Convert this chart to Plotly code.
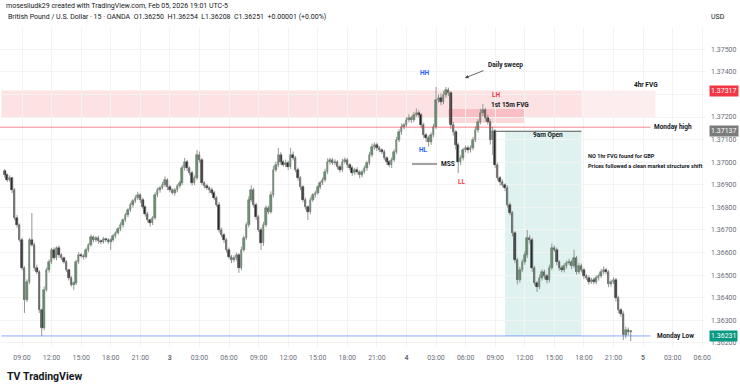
import plotly.graph_objects as go
import pandas as pd

# ---------------- data ----------------
start_time = "2026-02-02 07:15"
bar_minutes = 15
first_open = 1.36960

closes = [
    1.36943, 1.36921, 1.36930, 1.36877, 1.36753, 1.36722, 1.36656, 1.36532, 1.36390, 1.36470,
    1.36656, 1.36634, 1.36532, 1.36514, 1.36346, 1.36266, 1.36435, 1.36523, 1.36558, 1.36612,
    1.36576, 1.36620, 1.36589, 1.36576, 1.36558, 1.36523, 1.36488, 1.36457, 1.36466, 1.36558,
    1.36589, 1.36585, 1.36581, 1.36612, 1.36634, 1.36669, 1.36656, 1.36665, 1.36651, 1.36647,
    1.36660, 1.36656, 1.36647, 1.36656, 1.36673, 1.36687, 1.36704, 1.36722, 1.36744, 1.36766,
    1.36789, 1.36811, 1.36828, 1.36842, 1.36855, 1.36833, 1.36802, 1.36771, 1.36744, 1.36731,
    1.36753, 1.36855, 1.36877, 1.36886, 1.36899, 1.36921, 1.36890, 1.36877, 1.36864, 1.36877,
    1.36895, 1.36908, 1.36974, 1.37001, 1.36974, 1.36952, 1.36908, 1.36930, 1.37032, 1.37010,
    1.36908, 1.36895, 1.36886, 1.36877, 1.36864, 1.36842, 1.36811, 1.36700, 1.36678, 1.36656,
    1.36612, 1.36581, 1.36567, 1.36576, 1.36589, 1.36532, 1.36612, 1.36665, 1.36722, 1.36833,
    1.36877, 1.36811, 1.36758, 1.36700, 1.36642, 1.36722, 1.36797, 1.36780, 1.36855, 1.36966,
    1.36988, 1.37032, 1.37001, 1.36988, 1.36997, 1.36979, 1.37032, 1.37019, 1.36966, 1.36930,
    1.36890, 1.36833, 1.36802, 1.36780, 1.36833, 1.36855, 1.36864, 1.36890, 1.36908, 1.36921,
    1.36957, 1.37001, 1.37010, 1.36997, 1.37001, 1.36979, 1.36966, 1.37001, 1.37010, 1.36988,
    1.36974, 1.36952, 1.36966, 1.36957, 1.36943, 1.36957, 1.36974, 1.36997, 1.37032, 1.37067,
    1.37076, 1.37063, 1.37054, 1.37045, 1.37019, 1.37001, 1.36988, 1.37010, 1.37045, 1.37098,
    1.37134, 1.37156, 1.37165, 1.37187, 1.37196, 1.37187, 1.37209, 1.37218, 1.37209, 1.37165,
    1.37120, 1.37107, 1.37089, 1.37120, 1.37156, 1.37275, 1.37284, 1.37266, 1.37297, 1.37320,
    1.37306, 1.37165, 1.37134, 1.37076, 1.37001, 1.37019, 1.37054, 1.37063, 1.37054, 1.37063,
    1.37098, 1.37143, 1.37178, 1.37218, 1.37231, 1.37196, 1.37178, 1.37098, 1.37137, 1.36988,
    1.36930, 1.36912, 1.36899, 1.36886, 1.36811, 1.36775, 1.36687, 1.36567, 1.36479, 1.36523,
    1.36558, 1.36589, 1.36665, 1.36656, 1.36532, 1.36466, 1.36448, 1.36488, 1.36514, 1.36496,
    1.36479, 1.36532, 1.36620, 1.36612, 1.36558, 1.36532, 1.36523, 1.36541, 1.36554, 1.36558,
    1.36541, 1.36576, 1.36514, 1.36541, 1.36523, 1.36496, 1.36488, 1.36470, 1.36479, 1.36470,
    1.36488, 1.36496, 1.36514, 1.36523, 1.36514, 1.36461, 1.36470, 1.36479, 1.36399, 1.36346,
    1.36328, 1.36235, 1.36258, 1.36250, 1.36251,
]

# wick extents beyond the candle body, in points (0.00001)
upper_wick_pts = [
    10, 8, 12, 6, 9, 14, 7, 10, 8, 12,
    9, 119, 10, 14, 8, 6, 15, 10, 12, 9,
    11, 7, 10, 8, 6, 9, 5, 8, 7, 10,
    12, 9, 8, 10, 7, 11, 6, 8, 10, 7,
    9, 6, 8, 7, 10, 8, 9, 12, 7, 10,
    8, 11, 9, 12, 14, 8, 10, 7, 9, 6,
    8, 12, 10, 9, 14, 16, 8, 10, 7, 9,
    8, 10, 14, 18, 9, 7, 10, 12, 22, 15,
    9, 8, 10, 7, 11, 9, 8, 12, 10, 9,
    8, 10, 9, 12, 11, 8, 14, 10, 12, 16,
    20, 10, 9, 8, 11, 14, 12, 10, 16, 18,
    15, 31, 12, 10, 14, 9, 31, 15, 8, 10,
    9, 8, 10, 7, 12, 9, 11, 8, 10, 12,
    14, 16, 10, 9, 12, 8, 10, 14, 11, 9,
    8, 10, 9, 12, 7, 10, 11, 9, 14, 16,
    12, 10, 9, 8, 10, 7, 9, 11, 12, 14,
    12, 15, 10, 13, 16, 9, 14, 20, 12, 8,
    10, 9, 11, 12, 14, 58, 16, 20, 18, 13,
    10, 9, 12, 8, 10, 12, 9, 11, 10, 12,
    14, 16, 12, 18, 27, 10, 14, 12, 20, 8,
    10, 9, 12, 8, 11, 10, 9, 8, 10, 14,
    12, 16, 35, 12, 10, 9, 8, 14, 12, 10,
    9, 14, 20, 12, 10, 9, 11, 12, 10, 14,
    10, 36, 9, 12, 10, 8, 9, 11, 10, 9,
    12, 10, 14, 16, 9, 8, 10, 12, 9, 10,
    8, 12, 14, 10, 3,
]
lower_wick_pts = [
    12, 9, 8, 14, 10, 12, 8, 10, 57, 9,
    10, 8, 12, 9, 14, 35, 10, 8, 12, 9,
    8, 10, 12, 9, 7, 10, 12, 8, 22, 10,
    9, 8, 12, 7, 10, 8, 11, 9, 12, 10,
    8, 10, 9, 35, 8, 10, 7, 9, 12, 8,
    10, 9, 12, 8, 10, 14, 9, 12, 10, 16,
    9, 8, 10, 12, 7, 9, 14, 10, 8, 12,
    10, 9, 8, 11, 14, 10, 12, 9, 8, 12,
    10, 12, 9, 14, 8, 10, 9, 12, 10, 14,
    12, 9, 14, 10, 12, 22, 10, 8, 9, 11,
    10, 12, 14, 10, 30, 12, 9, 10, 8, 11,
    9, 10, 12, 8, 10, 14, 9, 11, 10, 12,
    14, 10, 12, 36, 10, 9, 12, 8, 10, 9,
    8, 10, 12, 9, 11, 10, 12, 9, 8, 14,
    10, 12, 9, 11, 14, 10, 8, 12, 9, 10,
    12, 14, 10, 9, 11, 12, 10, 14, 9, 10,
    9, 12, 10, 8, 11, 14, 10, 9, 12, 16,
    14, 18, 20, 12, 10, 9, 11, 14, 10, 12,
    14, 18, 16, 20, 49, 14, 12, 10, 14, 11,
    10, 9, 12, 10, 14, 16, 12, 20, 66, 14,
    12, 16, 10, 14, 12, 10, 16, 14, 20, 12,
    10, 12, 14, 16, 18, 12, 22, 10, 12, 14,
    16, 12, 10, 9, 14, 12, 10, 11, 12, 10,
    14, 10, 12, 9, 11, 14, 10, 12, 9, 11,
    10, 12, 9, 11, 10, 14, 12, 10, 16, 14,
    12, 22, 14, 16, 42,
]

# levels / zones
fvg_4h_low, fvg_4h_high = 1.37196, 1.37317
fvg_15m_low, fvg_15m_high = 1.37174, 1.37235
monday_high = 1.37155
monday_low = 1.36231
nine_am_open = 1.37137

price_ticks = [1.36200, 1.36300, 1.36400, 1.36500, 1.36600, 1.36700, 1.36800,
               1.36900, 1.37000, 1.37100, 1.37200, 1.37300, 1.37400, 1.37500]
# the 1.37300 label is covered by the red FVG price tag in the reference
price_labels = ["1.36200", "1.36300", "1.36400", "1.36500", "1.36600", "1.36700", "1.36800",
                "1.36900", "1.37000", "1.37100", "1.37200", "", "1.37400", "1.37500"]
time_ticks = [
    "2026-02-02 09:00", "2026-02-02 12:00", "2026-02-02 15:00", "2026-02-02 18:00", "2026-02-02 21:00",
    "2026-02-03 00:00", "2026-02-03 03:00", "2026-02-03 06:00", "2026-02-03 09:00", "2026-02-03 12:00",
    "2026-02-03 15:00", "2026-02-03 18:00", "2026-02-03 21:00",
    "2026-02-04 00:00", "2026-02-04 03:00", "2026-02-04 06:00", "2026-02-04 09:00", "2026-02-04 12:00",
    "2026-02-04 15:00", "2026-02-04 18:00", "2026-02-04 21:00",
    "2026-02-05 00:00", "2026-02-05 03:00", "2026-02-05 06:00",
]
time_labels = [
    "09:00", "12:00", "15:00", "18:00", "21:00",
    "<b>3</b>", "03:00", "06:00", "09:00", "12:00", "15:00", "18:00", "21:00",
    "<b>4</b>", "03:00", "06:00", "09:00", "12:00", "15:00", "18:00", "21:00",
    "<b>5</b>", "03:00", "06:00",
]

# ---------------- build ----------------
times = pd.date_range(start_time, periods=len(closes), freq=f"{bar_minutes}min")
opens = [first_open] + closes[:-1]
body_hi = [max(o, c) for o, c in zip(opens, closes)]
body_lo = [min(o, c) for o, c in zip(opens, closes)]
highs = [h + u * 1e-5 for h, u in zip(body_hi, upper_wick_pts)]
lows = [l - d * 1e-5 for l, d in zip(body_lo, lower_wick_pts)]
up = [c >= o for o, c in zip(opens, closes)]

UP_FILL, DOWN_FILL = "#5a9a66", "#050505"

wx, wy = [], []
for t, h, l in zip(times, highs, lows):
    wx += [t, t, None]
    wy += [l, h, None]

FONT = "Roboto, Arial, sans-serif"
fig = go.Figure()
fig.add_trace(go.Scatter(x=wx, y=wy, mode="lines", line=dict(color="#8a8a8a", width=0.9),
                         hoverinfo="skip", showlegend=False))
fig.add_trace(go.Bar(
    x=times, y=[h - l for h, l in zip(body_hi, body_lo)], base=body_lo,
    width=bar_minutes * 60 * 1000 * 0.62,
    marker=dict(color=[UP_FILL if u else DOWN_FILL for u in up],
                line=dict(color=["#2d4d33" if u else DOWN_FILL for u in up], width=0.5)),
    showlegend=False, hoverinfo="skip"))

shapes = [
    dict(type="rect", xref="x", yref="y", x0="2026-02-02 06:55", x1="2026-02-05 01:15",
         y0=fvg_4h_low, y1=fvg_4h_high, fillcolor="rgba(242,54,69,0.09)", line=dict(width=0), layer="below"),
    dict(type="rect", xref="x", yref="y", x0="2026-02-02 06:55", x1="2026-02-04 17:45",
         y0=fvg_4h_low, y1=fvg_4h_high, fillcolor="rgba(242,54,69,0.06)", line=dict(width=0), layer="below"),
    dict(type="rect", xref="x", yref="y", x0="2026-02-04 04:15", x1="2026-02-04 12:00",
         y0=fvg_15m_low, y1=fvg_15m_high, fillcolor="rgba(242,54,69,0.20)", line=dict(width=0), layer="below"),
    dict(type="rect", xref="x", yref="y", x0="2026-02-04 10:00", x1="2026-02-04 17:45",
         y0=monday_low, y1=nine_am_open, fillcolor="rgba(8,153,129,0.13)", line=dict(width=0), layer="below"),
    dict(type="line", xref="x", yref="y", x0="2026-02-02 06:46", x1="2026-02-05 00:45",
         y0=monday_high, y1=monday_high, line=dict(color="rgba(242,54,69,0.6)", width=1)),
    dict(type="line", xref="x", yref="y", x0="2026-02-02 06:55", x1="2026-02-05 00:45",
         y0=monday_low, y1=monday_low, line=dict(color="rgba(41,98,255,0.55)", width=1)),
    dict(type="line", xref="x", yref="y", x0="2026-02-04 09:00", x1="2026-02-04 17:45",
         y0=nine_am_open, y1=nine_am_open, line=dict(color="#555555", width=1)),
    dict(type="line", xref="x", yref="y", x0="2026-02-04 00:34", x1="2026-02-04 03:06",
         y0=1.36992, y1=1.36992, line=dict(color="#444444", width=1)),
]

def txt(x, y, s, color="#131722", size=6.5, xanchor="center", bold=True, yshift=0):
    return dict(x=x, y=y, xref="x", yref="y", text=f"<b>{s}</b>" if bold else s, showarrow=False,
                xanchor=xanchor, yanchor="middle", yshift=yshift,
                font=dict(family=FONT, size=size, color=color))

ann = [
    txt("2026-02-04 01:53", 1.37395, "HH", color="#2962ff"),
    txt("2026-02-04 01:41", 1.37054, "HL", color="#2962ff"),
    txt("2026-02-04 05:38", 1.36912, "LL", color="#f23645"),
    txt("2026-02-04 09:05", 1.37297, "LH", color="#f23645"),
    txt("2026-02-04 10:30", 1.37253, "1st 15m FVG"),
    txt("2026-02-04 03:18", 1.36992, "MSS", xanchor="left"),
    txt("2026-02-04 10:00", 1.37430, "Daily sweep"),
    txt("2026-02-05 00:18", 1.37342, "4hr FVG"),
    txt("2026-02-05 00:55", monday_high, "Monday high", xanchor="left"),
    txt("2026-02-04 14:22", nine_am_open, "9am Open", yshift=-4),
    txt("2026-02-04 18:10", 1.37027, "NO 1hr FVG found for GBP", xanchor="left", size=5.6),
    txt("2026-02-04 18:10", 1.36983, "Prices followed a clean market structure shift", xanchor="left", size=5.6),
    txt("2026-02-05 01:13", monday_low, "Monday Low", xanchor="left"),
    dict(x="2026-02-04 05:56", y=1.37373, xref="x", yref="y", ax="2026-02-04 07:58", ay=1.37408,
         axref="x", ayref="y", text="", showarrow=True, arrowhead=2, arrowsize=0.9,
         arrowwidth=0.8, arrowcolor="#444444"),
    # header
    dict(x=0, y=1.069, xref="paper", yref="paper", xshift=4, xanchor="left", yanchor="middle",
         showarrow=False, text="mosesliudk29 created with TradingView.com, Feb 05, 2026 19:01 UTC-5",
         font=dict(family=FONT, size=7, color="#131722")),
    dict(x=0, y=1.0345, xref="paper", yref="paper", xshift=6, xanchor="left", yanchor="middle",
         showarrow=False,
         text="British Pound / U.S. Dollar · 15 · OANDA  O1.36250  H1.36254  L1.36208  C1.36251  +0.00001 (+0.00%)",
         font=dict(family=FONT, size=7, color="#131722")),
    dict(x=1, y=1.0345, xref="paper", yref="paper", xshift=13, xanchor="center", yanchor="middle",
         showarrow=False, text="USD", font=dict(family=FONT, size=7, color="#131722")),
    # price labels on axis
    dict(x=1, y=fvg_4h_high, xref="paper", yref="y", xshift=4, xanchor="left", yanchor="middle",
         showarrow=False, text="1.37317", bgcolor="#f23645", borderpad=1,
         font=dict(family=FONT, size=7, color="white")),
    dict(x=1, y=nine_am_open, xref="paper", yref="y", xshift=4, xanchor="left", yanchor="middle",
         showarrow=False, text="1.37137", bgcolor="#7b7b7b", borderpad=1,
         font=dict(family=FONT, size=7, color="white")),
    dict(x=1, y=monday_low, xref="paper", yref="y", xshift=4, xanchor="left", yanchor="middle",
         showarrow=False, text="1.36231", bgcolor="#089981", borderpad=1,
         font=dict(family=FONT, size=7, color="white")),
    # logo
    dict(x=0, y=-0.094, xref="paper", yref="paper", xshift=5, xanchor="left", yanchor="middle",
         showarrow=False, text="<b>TV</b> <b>TradingView</b>",
         font=dict(family=FONT, size=10.5, color="#131722")),
]

fig.update_layout(
    width=740, height=386,
    margin=dict(l=0, r=35, t=28, b=39),
    paper_bgcolor="white", plot_bgcolor="white",
    shapes=shapes, annotations=ann, showlegend=False, barmode="overlay", bargap=0,
    xaxis=dict(type="date", range=["2026-02-02 06:46", "2026-02-05 06:17"],
               tickvals=time_ticks, ticktext=time_labels, showgrid=True, gridcolor="#f3f3f3",
               zeroline=False, showline=False, ticks="", ticklabelstandoff=5,
               tickfont=dict(family=FONT, size=7, color="#6a6d78")),
    yaxis=dict(side="right", range=[1.36182, 1.37594], tickvals=price_ticks,
               ticktext=price_labels, showgrid=True, gridcolor="#f3f3f3",
               zeroline=False, showline=False, ticks="", ticklabelstandoff=5,
               tickfont=dict(family=FONT, size=7, color="#6a6d78")),
)

fig.write_html("out.html", config={"displayModeBar": False},
               post_script="document.body.style.margin='0';document.body.style.padding='0';")
